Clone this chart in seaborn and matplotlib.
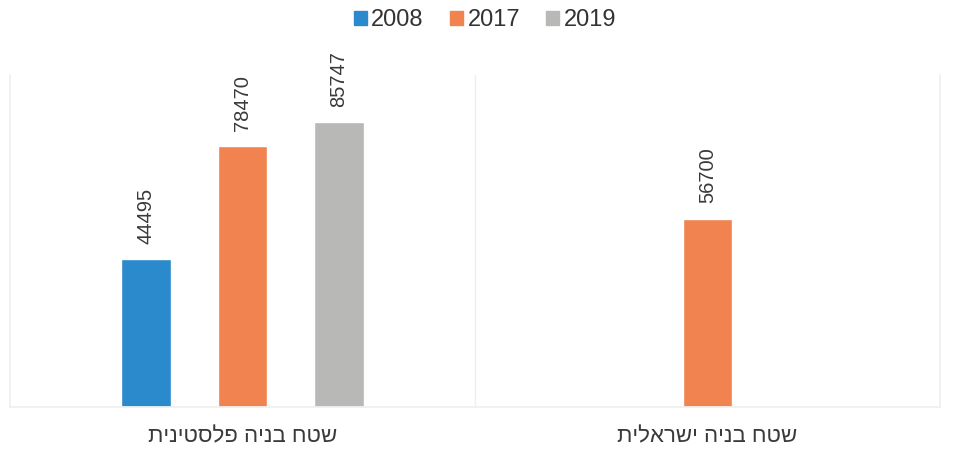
import numpy as np
import pandas as pd
import matplotlib
matplotlib.use('Agg')
import matplotlib.pyplot as plt
import matplotlib.patches as mpatches
import seaborn as sns

# Data
categories = ['שטח בניה פלסטינית', 'שטח בניה ישראלית']
years = ['2008', '2017', '2019']
values_2008 = [44495, np.nan]
values_2017 = [78470, 56700]
values_2019 = [85747, np.nan]
colors = ['#2b8acb', '#f0834f', '#b8b9b6']

rows = []
for year, vals in zip(years, [values_2008, values_2017, values_2019]):
    for cat, v in zip(categories, vals):
        rows.append({'category': cat, 'year': year, 'value': v})
df = pd.DataFrame(rows)

sns.set_theme(style='white')
plt.rcParams['font.family'] = ['Liberation Sans', 'DejaVu Sans']

fig = plt.figure(figsize=(9.58, 4.61), dpi=100)
ax = fig.add_axes([10 / 958, 54 / 461, 930 / 958, 332 / 461])

sns.barplot(data=df, x='category', y='value', hue='year', order=categories,
            hue_order=years, palette=colors, width=0.62, gap=0.48,
            saturation=1, errorbar=None, legend=False, ax=ax)

# value labels, rotated like the original
for p in ax.patches:
    h = p.get_height()
    if np.isnan(h) or h == 0:
        continue
    ax.annotate(f'{h:.0f}', (p.get_x() + p.get_width() / 2, h),
                xytext=(0, 11), textcoords='offset points',
                rotation=90, ha='center', va='bottom',
                fontsize=14.5, color='#3a3a3a')

ax.set_ylim(0, 100000)
ax.set_xlim(-0.5, 1.5)
ax.set_yticks([])
ax.set_xlabel('')
ax.set_ylabel('')
# Hebrew reads right to left: reverse the characters for display
ax.set_xticks(range(len(categories)))
ax.set_xticklabels([c[::-1] for c in categories], fontsize=16, color='#3a3a3a')
ax.tick_params(axis='x', length=0, pad=14)

ax.axvline(0.5, color='#efefef', lw=1)
for side in ['left', 'right', 'bottom']:
    ax.spines[side].set_color('#f0f0f0')
ax.spines['top'].set_visible(False)

handles = [mpatches.Patch(color=c, label=y) for c, y in zip(colors, years)]
fig.legend(handles=handles, loc='center', bbox_to_anchor=(485 / 958, 1 - 20 / 461),
           ncol=3, frameon=False, fontsize=17, handlelength=0.55, handleheight=0.55,
           handletextpad=0.2, columnspacing=1.1, labelcolor='#333333')

fig.savefig('out.png', dpi=100)
